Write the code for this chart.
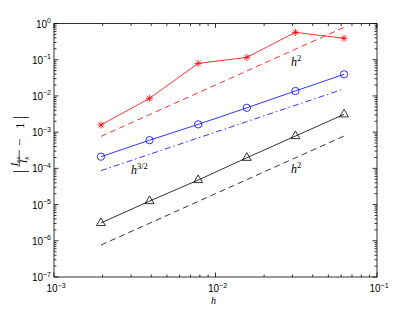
<!DOCTYPE html>
<html>
<head>
<meta charset="utf-8">
<script src="https://cdn.jsdelivr.net/npm/d3@7"></script>
<style>
  body { margin: 0; background: #fff; }
  svg { display: block; }
  .tick-label { font-family: "Liberation Sans", Arial, sans-serif; font-size: 10px; fill: #000; }
  .math { font-family: "Liberation Serif", "DejaVu Serif", serif; fill: #000; }
</style>
</head>
<body>
<div id="chart"></div>
<script>
// mesh sizes h = 1/512 ... 1/16
const hValues = [1 / 512, 1 / 256, 1 / 128, 1 / 64, 1 / 32, 1 / 16];

// errors
const redErrors = [1.58e-3, 8.6e-3, 7.9e-2, 1.16e-1, 5.7e-1, 3.9e-1];
const blueErrors = [2.1e-4, 6.0e-4, 1.64e-3, 4.7e-3, 1.37e-2, 3.95e-2];
const blackErrors = [3.1e-6, 1.25e-5, 4.75e-5, 1.96e-4, 7.8e-4, 3.1e-3];

// reference slopes: C * h^p
const refRed = hValues.map((h) => 200 * h * h);
const refBlue = hValues.map((h) => Math.pow(h, 1.5));
const refBlack = hValues.map((h) => 0.2 * h * h);

const xTickExps = [-3, -2, -1];
const yTickExps = [0, -1, -2, -3, -4, -5, -6, -7];

const width = 415;
const height = 312;
const margin = { left: 54, top: 23.5, right: 38, bottom: 35 };

const svg = d3
  .select('#chart')
  .append('svg')
  .attr('width', width)
  .attr('height', height);

const x = d3
  .scaleLog()
  .domain([1e-3, 1e-1])
  .range([margin.left, width - margin.right]);

const y = d3
  .scaleLog()
  .domain([1e-7, 1e0])
  .range([height - margin.bottom, margin.top]);

const x0 = x.range()[0], x1 = x.range()[1];
const y0 = y.range()[0], y1 = y.range()[1];

// minor tick values (2..9 per decade)
function minorTicks(lo, hi) {
  const out = [];
  for (let e = lo; e < hi; e++) {
    for (let m = 2; m <= 9; m++) out.push(m * Math.pow(10, e));
  }
  return out;
}

const axes = svg.append('g').attr('stroke', '#000').attr('stroke-width', 0.8);

// x ticks, bottom and top, pointing inwards
minorTicks(-3, -1).forEach((v) => {
  axes.append('line').attr('x1', x(v)).attr('x2', x(v)).attr('y1', y0).attr('y2', y0 - 2.5);
  axes.append('line').attr('x1', x(v)).attr('x2', x(v)).attr('y1', y1).attr('y2', y1 + 2.5);
});
xTickExps.forEach((e) => {
  const v = Math.pow(10, e);
  axes.append('line').attr('x1', x(v)).attr('x2', x(v)).attr('y1', y0).attr('y2', y0 - 4.5);
  axes.append('line').attr('x1', x(v)).attr('x2', x(v)).attr('y1', y1).attr('y2', y1 + 4.5);
});

// y ticks, left and right
minorTicks(-7, 0).forEach((v) => {
  axes.append('line').attr('y1', y(v)).attr('y2', y(v)).attr('x1', x0).attr('x2', x0 + 2.5);
  axes.append('line').attr('y1', y(v)).attr('y2', y(v)).attr('x1', x1).attr('x2', x1 - 2.5);
});
yTickExps.forEach((e) => {
  const v = Math.pow(10, e);
  axes.append('line').attr('y1', y(v)).attr('y2', y(v)).attr('x1', x0).attr('x2', x0 + 4.5);
  axes.append('line').attr('y1', y(v)).attr('y2', y(v)).attr('x1', x1).attr('x2', x1 - 4.5);
});

// box
axes
  .append('rect')
  .attr('x', x0)
  .attr('y', y1)
  .attr('width', x1 - x0)
  .attr('height', y0 - y1)
  .attr('fill', 'none');

// tick labels as 10^e
function powerLabel(g, px, py, e, anchor) {
  const t = g.append('text').attr('class', 'tick-label').attr('x', px).attr('y', py).attr('text-anchor', anchor);
  t.append('tspan').text('10');
  t.append('tspan').attr('dy', -4.5).attr('font-size', 7).text(e === 0 ? '0' : '\u2212' + Math.abs(e));
}

xTickExps.forEach((e) => {
  powerLabel(svg, x(Math.pow(10, e)) + 2, y0 + 15, e, 'middle');
});
yTickExps.forEach((e) => {
  powerLabel(svg, x0 - 3, y(Math.pow(10, e)) + 4, e, 'end');
});

// lines
const line = d3
  .line()
  .x((d) => x(d[0]))
  .y((d) => y(d[1]));

function zipped(vals) {
  return hValues.map((h, i) => [h, vals[i]]);
}

const series = [
  { vals: redErrors, color: '#ff0000', marker: 'star' },
  { vals: blueErrors, color: '#0000ff', marker: 'circle' },
  { vals: blackErrors, color: '#000000', marker: 'triangle' },
];

const refs = [
  { vals: refRed, color: '#ff0000', dash: '6,4' },
  { vals: refBlue, color: '#0000ff', dash: '6,3,1.5,3' },
  { vals: refBlack, color: '#000000', dash: '6,4' },
];

refs.forEach((r) => {
  svg
    .append('path')
    .attr('d', line(zipped(r.vals)))
    .attr('fill', 'none')
    .attr('stroke', r.color)
    .attr('stroke-width', 0.8)
    .attr('stroke-dasharray', r.dash);
});

const starPath = (() => {
  const r = 3.6;
  const d = r * Math.SQRT1_2;
  return `M${-r},0L${r},0M0,${-r}L0,${r}M${-d},${-d}L${d},${d}M${-d},${d}L${d},${-d}`;
})();

series.forEach((s) => {
  const data = zipped(s.vals);
  svg
    .append('path')
    .attr('d', line(data))
    .attr('fill', 'none')
    .attr('stroke', s.color)
    .attr('stroke-width', 0.8);

  const pts = svg
    .append('g')
    .selectAll('path')
    .data(data)
    .enter()
    .append('path')
    .attr('transform', (d) => `translate(${x(d[0])},${y(d[1])})`)
    .attr('fill', 'none')
    .attr('stroke', s.color)
    .attr('stroke-width', 0.8);

  if (s.marker === 'star') {
    pts.attr('d', starPath);
  } else if (s.marker === 'circle') {
    pts.attr('d', d3.symbol().type(d3.symbolCircle).size(42)());
  } else {
    pts.attr('d', d3.symbol().type(d3.symbolTriangle).size(34)());
  }
});

// slope labels
function slopeLabel(px, py, exp) {
  const t = svg.append('text').attr('class', 'math').attr('x', px).attr('y', py).attr('font-size', 12);
  t.append('tspan').style('font-style', 'italic').text('h');
  t.append('tspan').attr('dy', -5).attr('font-size', 8.5).text(exp);
}
slopeLabel(291, 66, '2');
slopeLabel(131, 174, '3/2');
slopeLabel(291, 173, '2');

// x label
svg
  .append('text')
  .attr('class', 'math')
  .style('font-style', 'italic')
  .attr('x', x(1e-2) - 2)
  .attr('y', 304)
  .attr('font-size', 10)
  .attr('text-anchor', 'middle')
  .text('h');

// y label: |I_ex / I_h - 1|, rotated
const yl = svg.append('g').attr('transform', 'translate(20,143) rotate(-90)');
yl.append('text').attr('class', 'math').attr('x', -30).attr('y', 5).attr('font-size', 16).text('|');
const num = yl.append('text').attr('class', 'math').style('font-style', 'italic').attr('x', -23).attr('y', -2.5).attr('font-size', 10);
num.append('tspan').text('I');
num.append('tspan').attr('dy', 2).attr('font-size', 7).text('ex');
yl.append('line').attr('x1', -24).attr('x2', -7).attr('y1', -0.8).attr('y2', -0.8).attr('stroke', '#000').attr('stroke-width', 0.7);
const den = yl.append('text').attr('class', 'math').style('font-style', 'italic').attr('x', -20).attr('y', 7).attr('font-size', 10);
den.append('tspan').text('I');
den.append('tspan').attr('dy', 2).attr('font-size', 7).text('h');
yl.append('text').attr('class', 'math').attr('x', -3).attr('y', 4).attr('font-size', 13).text('\u2212');
yl.append('text').attr('class', 'math').attr('x', 14).attr('y', 4).attr('font-size', 13).text('1');
yl.append('text').attr('class', 'math').attr('x', 24).attr('y', 5).attr('font-size', 16).text('|');
</script>
</body>
</html>
